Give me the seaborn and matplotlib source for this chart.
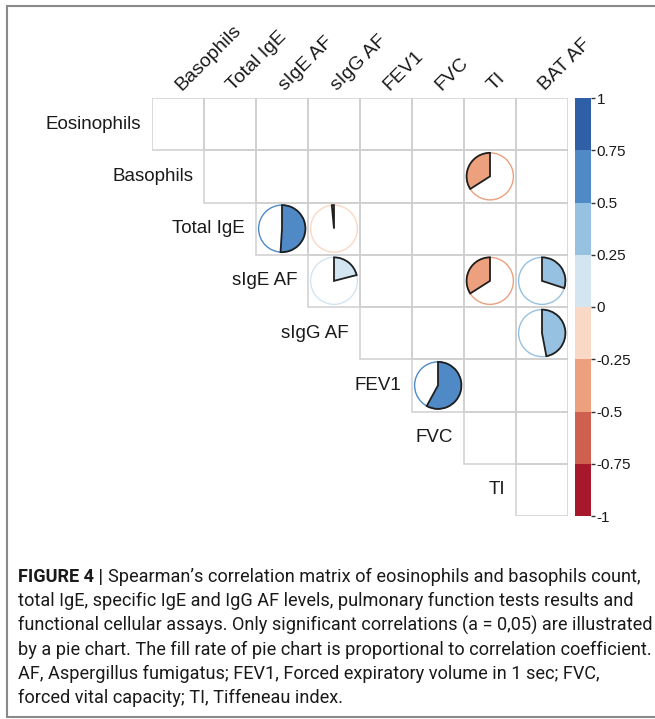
import numpy as np
import matplotlib
matplotlib.use("Agg")
import matplotlib.pyplot as plt
import seaborn as sns
from matplotlib.colors import ListedColormap, BoundaryNorm
from matplotlib.cm import ScalarMappable
from matplotlib.patches import Wedge, Circle, Rectangle
from matplotlib.lines import Line2D
from matplotlib import font_manager

# variables of the upper triangle
row_vars = ["Eosinophils", "Basophils", "Total IgE", "sIgE AF", "sIgG AF", "FEV1", "FVC", "TI"]
col_vars = ["Basophils", "Total IgE", "sIgE AF", "sIgG AF", "FEV1", "FVC", "TI", "BAT AF"]

# significant correlations only (row, column, rho)
sig_rows = ["Basophils", "Total IgE", "Total IgE", "sIgE AF", "sIgE AF", "sIgE AF", "sIgG AF", "FEV1"]
sig_cols = ["TI", "sIgE AF", "sIgG AF", "sIgG AF", "TI", "BAT AF", "BAT AF", "FVC"]
sig_rho = [-0.34, 0.51, -0.015, 0.21, -0.34, 0.30, 0.47, 0.58]

bar_colors = ["#A8182D", "#CF5F4F", "#ECA07E", "#FAD8C6",
              "#D3E5F1", "#97C1E0", "#4F8AC6", "#2F5FA6"]
bar_ticks = [-1, -0.75, -0.5, -0.25, 0, 0.25, 0.5, 0.75, 1]
bar_labels = ["-1", "-0.75", "-0.5", "-0.25", "0", "0.25", "0.5", "0.75", "1"]

caption_lines = [
    "total IgE, specific IgE and IgG AF levels, pulmonary function tests results and",
    "functional cellular assays. Only significant correlations (a = 0,05) are illustrated",
    "by a pie chart. The fill rate of pie chart is proportional to correlation coefficient.",
    "AF, Aspergillus fumigatus; FEV1, Forced expiratory volume in 1 sec; FVC,",
    "forced vital capacity; TI, Tiffeneau index.",
]
caption_head = "FIGURE 4 | "
caption_first = "Spearman\u2019s correlation matrix of eosinophils and basophils count,"


def pick_font(names):
    for n in names:
        try:
            font_manager.findfont(n, fallback_to_default=False)
            return n
        except Exception:
            pass
    return "DejaVu Sans"


sns.set_style("white")
label_font = pick_font(["Liberation Sans", "Arial"])
cap_font = pick_font(["Liberation Sans Narrow", "Roboto", "Liberation Sans"])
plt.rcParams["font.family"] = [label_font, "DejaVu Sans"]

cmap = ListedColormap(bar_colors)
norm = BoundaryNorm(bar_ticks, cmap.N)

n = len(row_vars)
grid = np.zeros((n, n))
mask = np.tril(np.ones((n, n), dtype=bool), k=-1)

fig = plt.figure(figsize=(6.55, 7.19), dpi=100)
W, H = 655, 719
ax = fig.add_axes([152 / W, 1 - 516 / H, 416 / W, 418 / H])
sns.heatmap(grid, mask=mask, cmap=ListedColormap(["white"]), cbar=False,
            ax=ax, xticklabels=False, yticklabels=False)
ax.set_xlim(0, n)
ax.set_ylim(n, 0)
ax.axis("off")

# cell borders of the upper triangle only
for i in range(n):
    for j in range(n):
        if not mask[i, j]:
            ax.add_patch(Rectangle((j, i), 1, 1, facecolor="none",
                                   edgecolor="#CFCFCF", lw=1.1, zorder=2))

# row labels, right aligned before the first cell of each row
for i, name in enumerate(row_vars):
    ax.text(i - 0.21, i + 0.5, name, ha="right", va="center",
            fontsize=13.5, color="#1a1a1a")
# column labels on top, 45 degrees
for j, name in enumerate(col_vars):
    ax.text(j + 0.62, -0.08, name, ha="left", va="bottom", rotation=45,
            rotation_mode="anchor", fontsize=14, color="#1a1a1a")

# pies
rad = 0.45
for r, c, rho in zip(sig_rows, sig_cols, sig_rho):
    i = row_vars.index(r)
    j = col_vars.index(c)
    cx, cy = j + 0.5, i + 0.5
    col = cmap(norm(rho))
    ax.add_patch(Circle((cx, cy), rad, facecolor="none", edgecolor=col, lw=1.0, zorder=3))
    span = 360 * abs(rho)
    if rho >= 0:
        t1, t2 = -90, -90 + span
    else:
        t1, t2 = -90 - span, -90
    ax.add_patch(Wedge((cx, cy), rad, t1, t2, facecolor=col,
                       edgecolor="#1f1f1f", lw=1.3, zorder=4))

# colour bar
cax = fig.add_axes([575 / W, 1 - 516 / H, 16 / W, 418 / H])
cb = fig.colorbar(ScalarMappable(norm=norm, cmap=cmap), cax=cax, ticks=bar_ticks)
cb.ax.set_yticklabels(bar_labels)
cb.outline.set_visible(False)
cb.ax.tick_params(length=3, width=1, color="#333333", labelsize=11,
                  labelcolor="#1a1a1a", pad=1)

# frame around the figure
for (x0, y0, x1, y1) in [(7, 6, 7, 717), (7, 6, 660, 6), (7, 717, 660, 717)]:
    fig.add_artist(Line2D([x0 / W, x1 / W], [1 - y0 / H, 1 - y1 / H],
                          color="#8a8a8a", lw=1.5, transform=fig.transFigure))

# caption
fig.canvas.draw()
rend = fig.canvas.get_renderer()
cap_size = 12.5
x0 = 18 / W
y_first = 577
step = 24.2
head = fig.text(x0, 1 - y_first / H, caption_head, fontsize=cap_size,
                fontweight="bold", family=cap_font, va="center", color="#1a1a1a")
first = fig.text(0, 1 - y_first / H, caption_first, fontsize=cap_size,
                 family=cap_font, va="center", color="#1a1a1a")
# fit the first line to the width seen in the picture
for _ in range(3):
    hb = head.get_window_extent(rend)
    first.set_x(hb.x1 / W)
    fb = first.get_window_extent(rend)
    cap_size *= (640 - 18) / (fb.x1 - hb.x0)
    head.set_fontsize(cap_size)
    first.set_fontsize(cap_size)
hb = head.get_window_extent(rend)
first.set_x(hb.x1 / W)
for k, line in enumerate(caption_lines):
    fig.text(x0, 1 - (y_first + step * (k + 1)) / H, line, fontsize=cap_size,
             family=cap_font, va="center", color="#1a1a1a")

fig.savefig("out.png", dpi=100)
